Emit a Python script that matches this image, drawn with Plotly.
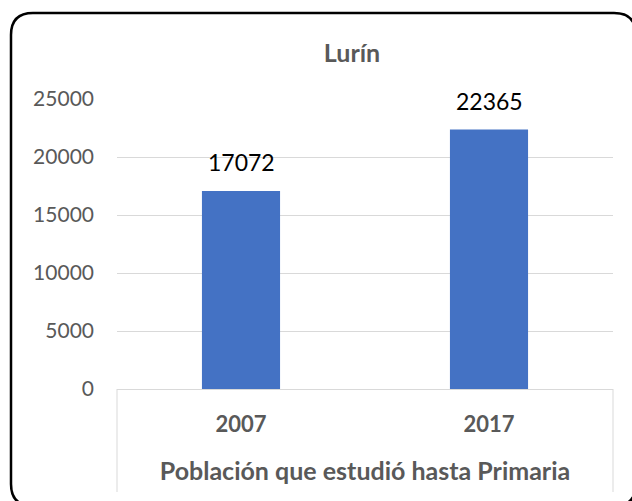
import plotly.graph_objects as go

categories = ["2007", "2017"]
values = [17072, 22365]
y_ticks = [0, 5000, 10000, 15000, 20000, 25000]

# plot-area geometry in pixels (for paper-coordinate shapes)
L, R, T, B = 117, 613, 99, 389
W, H = 632, 501

def px(x):
    return (x - L) / (R - L)

def py(y):
    return (B - y) / (B - T)

fig = go.Figure()
fig.add_trace(go.Bar(
    x=categories, y=values, width=0.315,
    marker=dict(color="#4472C4", line=dict(width=0)),
    hoverinfo="x+y",
))

for i, v in enumerate(values):
    fig.add_annotation(
        x=i, y=v, xref="x", yref="y", text=str(v), showarrow=False,
        yanchor="bottom", yshift=13,
        font=dict(family="Lato", size=23, color="#000000"),
    )

# rounded border
x0, y0, x1, y1, r = 11, 13, 636, 506, 22
path = (
    f"M {px(x0 + r)} {py(y0)} L {px(x1 - r)} {py(y0)} "
    f"Q {px(x1)} {py(y0)} {px(x1)} {py(y0 + r)} "
    f"L {px(x1)} {py(y1 - r)} "
    f"Q {px(x1)} {py(y1)} {px(x1 - r)} {py(y1)} "
    f"L {px(x0 + r)} {py(y1)} "
    f"Q {px(x0)} {py(y1)} {px(x0)} {py(y1 - r)} "
    f"L {px(x0)} {py(y0 + r)} "
    f"Q {px(x0)} {py(y0)} {px(x0 + r)} {py(y0)} Z"
)
fig.add_shape(type="path", path=path, xref="paper", yref="paper",
              line=dict(color="#000000", width=2.5), layer="above")

# category axis separators below plot area
for xv in (0, 1):
    fig.add_shape(type="line", xref="paper", yref="paper",
                  x0=xv, x1=xv, y0=0, y1=py(492),
                  line=dict(color="#D9D9D9", width=1))

fig.update_layout(
    width=W, height=H,
    margin=dict(l=L, r=W - R, t=T, b=H - B, pad=0),
    paper_bgcolor="white", plot_bgcolor="white",
    showlegend=False,
    title=dict(text="<b>Lurín</b>", x=px(352), xref="paper", xanchor="center",
               y=1 - 53 / H, yref="container", yanchor="middle",
               font=dict(family="Lato", size=25, color="#595959")),
    xaxis=dict(
        type="category", range=[-0.5, len(categories) - 0.5], autorange=False,
        showgrid=False, showline=True, linecolor="#D9D9D9",
        linewidth=1, ticks="", ticklabelstandoff=16,
        tickfont=dict(family="Lato", size=22, color="#595959", weight="bold"),
        title=dict(text="<b>Población que estudió hasta Primaria</b>", standoff=26,
                   font=dict(family="Lato", size=25, color="#595959")),
    ),
    yaxis=dict(
        range=[0, 25000], tickvals=y_ticks, ticktext=[str(v) for v in y_ticks],
        showgrid=True, gridcolor="#D9D9D9", gridwidth=1,
        zeroline=True, zerolinecolor="#D9D9D9", zerolinewidth=1,
        showline=False, ticks="", ticklabelstandoff=22,
        tickfont=dict(family="Lato", size=21, color="#595959"),
    ),
    font=dict(family="Lato"),
)

fig.write_html("out.html", config={"displayModeBar": False},
               post_script="document.body.style.margin='0';")
